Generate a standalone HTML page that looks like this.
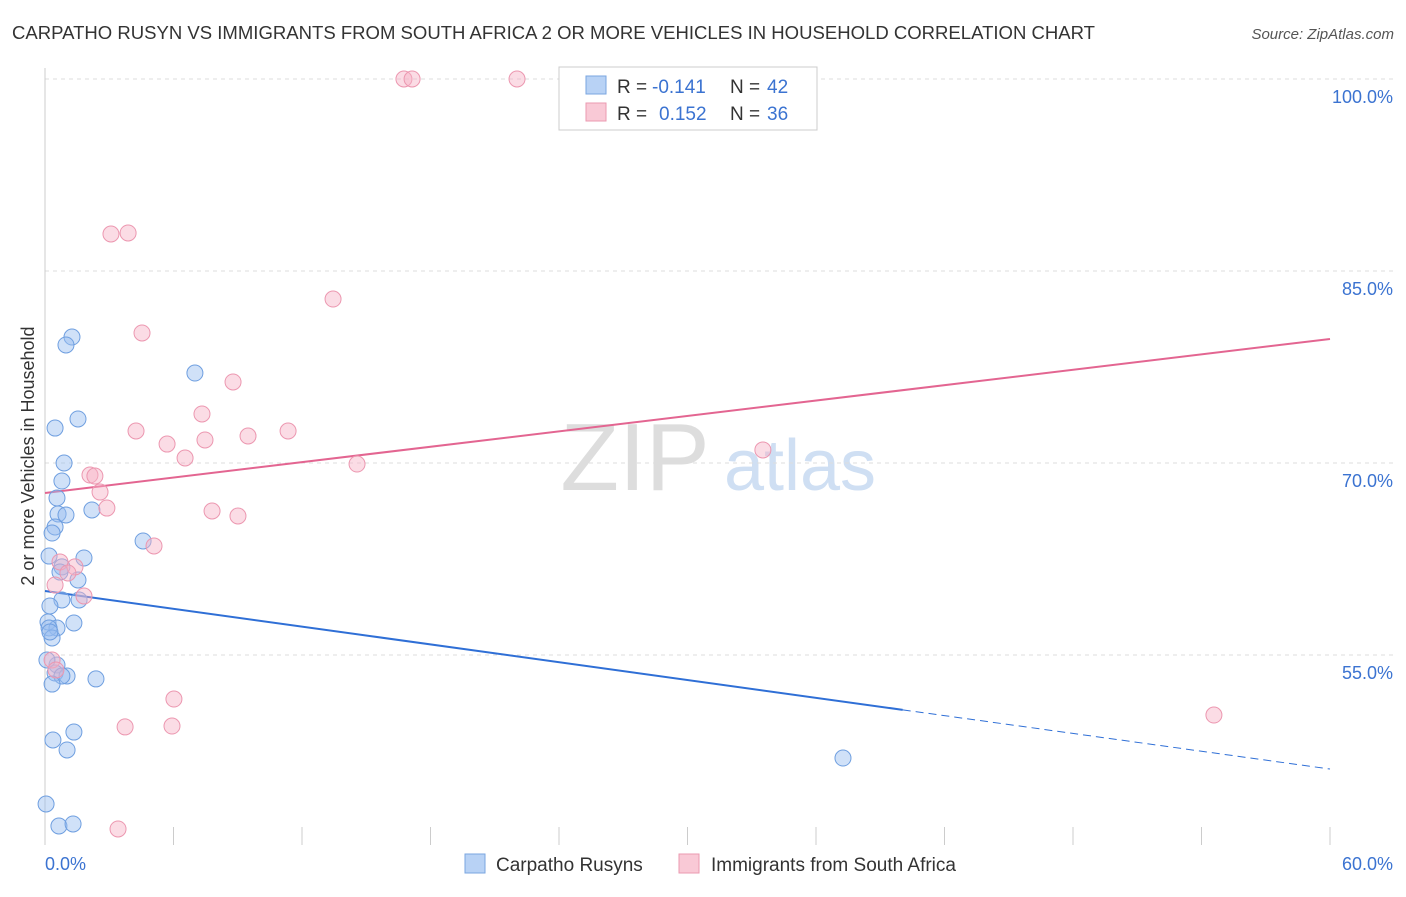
<!DOCTYPE html>
<html><head><meta charset="utf-8"><style>
body{margin:0;background:#fff;font-family:"Liberation Sans",sans-serif;}
svg text{font-family:"Liberation Sans",sans-serif;}
</style></head><body>
<svg id="chart" width="1406" height="892" xmlns="http://www.w3.org/2000/svg">
<text x="12" y="39" font-size="18" fill="#333" textLength="1083" lengthAdjust="spacingAndGlyphs">CARPATHO RUSYN VS IMMIGRANTS FROM SOUTH AFRICA 2 OR MORE VEHICLES IN HOUSEHOLD CORRELATION CHART</text>
<text x="1394" y="39" font-size="15" fill="#555" text-anchor="end" font-style="italic">Source: ZipAtlas.com</text>
<text x="635" y="490" font-size="96" fill="#ddd" text-anchor="middle" font-family="Liberation Serif">ZIP</text>
<text x="800" y="490" font-size="72" fill="#cfdff3" text-anchor="middle">atlas</text>
<text transform="translate(34,456) rotate(-90)" font-size="18" fill="#333" text-anchor="middle">2 or more Vehicles in Household</text>
<g id="grid"></g><g id="lines"></g><g id="pts"></g>
<g>
<rect x="559" y="67" width="258" height="63" fill="#fff" stroke="#ccc"/>
<rect x="586" y="76" width="20" height="18" fill="#b8d2f5" stroke="#7aa6e0"/>
<rect x="586" y="103" width="20" height="18" fill="#f9c9d6" stroke="#eb9ab0"/>
<text x="617" y="93" font-size="19" fill="#333">R =</text>
<text x="652" y="93" font-size="19" fill="#3b73d1">-0.141</text>
<text x="730" y="93" font-size="19" fill="#333">N =</text>
<text x="767" y="93" font-size="19" fill="#3b73d1">42</text>
<text x="617" y="120" font-size="19" fill="#333">R =</text>
<text x="659" y="120" font-size="19" fill="#3b73d1">0.152</text>
<text x="730" y="120" font-size="19" fill="#333">N =</text>
<text x="767" y="120" font-size="19" fill="#3b73d1">36</text>
</g>
<g>
<rect x="465" y="854" width="20" height="19" fill="#b8d2f5" stroke="#7aa6e0"/>
<text x="496" y="871" font-size="19" fill="#333">Carpatho Rusyns</text>
<rect x="679" y="854" width="20" height="19" fill="#f9c9d6" stroke="#eb9ab0"/>
<text x="711" y="871" font-size="19" fill="#333">Immigrants from South Africa</text>
</g>
</svg>
<script>
const yTicks=[100,85,70,55];
const xTickLabels=["0.0%","60.0%"];
const blueX=[1.26,0.98,7.00,1.54,0.47,0.89,0.79,0.56,0.61,0.98,2.19,0.47,0.33,4.58,1.82,0.19,0.79,0.70,1.54,0.79,1.59,0.23,0.14,1.35,0.56,0.19,0.33,0.56,0.47,1.03,0.79,2.38,0.33,1.35,0.37,1.03,37.26,0.05,0.65,1.31,0.09,0.23];
const blueY=[79.84,79.22,77.03,73.44,72.73,70.0,68.59,67.27,66.02,65.94,66.33,65.0,64.53,63.91,62.58,62.73,61.88,61.48,60.86,59.30,59.30,58.83,57.58,57.5,57.11,57.11,56.33,54.22,53.59,53.36,53.36,53.13,52.73,48.98,48.36,47.58,46.95,43.36,41.64,41.80,54.61,56.80];
const pinkX=[16.76,17.14,22.04,3.08,3.88,13.45,4.53,8.78,7.33,4.25,5.70,7.47,9.48,11.35,6.54,14.57,33.52,2.10,2.33,2.57,2.89,7.80,9.01,5.09,0.70,1.40,1.07,0.47,1.82,0.33,0.51,6.02,3.74,5.93,54.58,3.41];
const pinkY=[100,100,100,87.89,87.97,82.81,80.16,76.33,73.83,72.5,71.48,71.80,72.11,72.5,70.39,69.92,71.02,69.06,68.98,67.73,66.48,66.25,65.86,63.52,62.27,61.88,61.41,60.47,59.61,54.61,53.83,51.56,49.38,49.45,50.31,41.41];
const blueTrend=[60.0,46.09];
const blueSolidEnd=40.05;
const pinkTrend=[67.66,79.69];
const NS="http://www.w3.org/2000/svg";
const sx=v=>45+v/60*1285;
const sy=v=>79+(100-v)/15*192;
function mk(tag,attrs,parent){const e=document.createElementNS(NS,tag);for(const k in attrs)e.setAttribute(k,attrs[k]);document.getElementById(parent).appendChild(e);return e;}
yTicks.forEach(t=>{
 const l=mk('line',{x1:45,x2:1394,y1:sy(t),y2:sy(t),stroke:'#ddd','stroke-dasharray':'4,4'},'grid');
 
 
 const tx=mk('text',{x:1393,y:sy(t)+24,'font-size':18,fill:'#3b73d1','text-anchor':'end'},'grid');
 tx.textContent=t.toFixed(1)+'%';
 
 
});
mk('line',{x1:45,x2:45,y1:68,y2:845,stroke:'#ccc'},'grid');
for(let i=0;i<=10;i++){
 const l=mk('line',{x1:sx(i*6),x2:sx(i*6),y1:827,y2:845,stroke:'#ccc'},'grid');
 
 
}
const xl0=mk('text',{x:45,y:870,'font-size':18,fill:'#3b73d1'},'grid');xl0.textContent=xTickLabels[0];


const xl1=mk('text',{x:1393,y:870,'font-size':18,fill:'#3b73d1','text-anchor':'end'},'grid');xl1.textContent=xTickLabels[1];


const bSolidY=blueTrend[0]+(blueTrend[1]-blueTrend[0])*blueSolidEnd/60;
let l1=mk('line',{x1:sx(0),y1:sy(blueTrend[0]),x2:sx(blueSolidEnd),y2:sy(bSolidY),stroke:'#2f6fd6','stroke-width':2},'lines');


let l2=mk('line',{x1:sx(blueSolidEnd),y1:sy(bSolidY),x2:sx(60),y2:sy(blueTrend[1]),stroke:'#2f6fd6','stroke-width':1,'stroke-dasharray':'8,5'},'lines');


let l3=mk('line',{x1:sx(0),y1:sy(pinkTrend[0]),x2:sx(60),y2:sy(pinkTrend[1]),stroke:'#e36591','stroke-width':2},'lines');


blueX.forEach((x,i)=>{
 const c=mk('circle',{cx:sx(x),cy:sy(blueY[i]),r:8,fill:'rgba(150,188,240,0.45)',stroke:'#6f9fe0','stroke-width':1},'pts');
 
 
});
pinkX.forEach((x,i)=>{
 const c=mk('circle',{cx:sx(x),cy:sy(pinkY[i]),r:8,fill:'rgba(246,178,198,0.45)',stroke:'#ec97b0','stroke-width':1},'pts');
 
 
});
</script>
</body></html>
